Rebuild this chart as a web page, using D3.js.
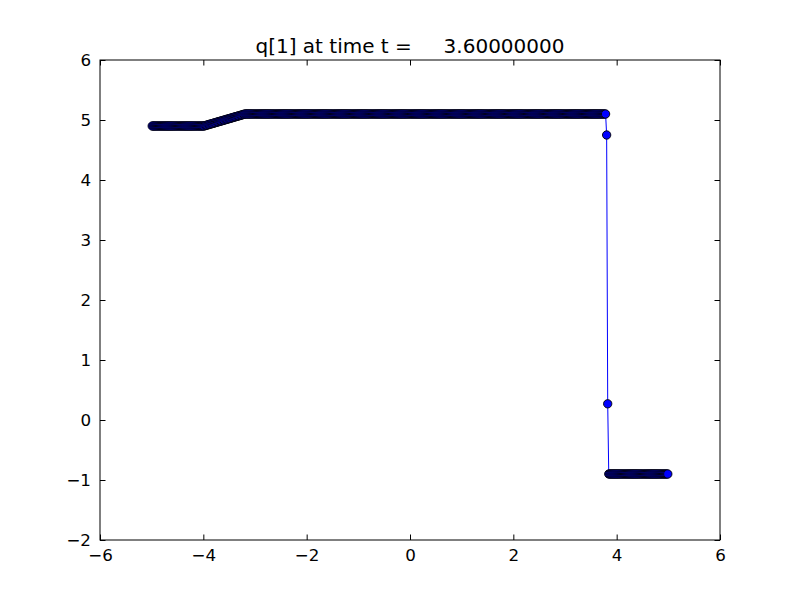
<!DOCTYPE html>
<html>
<head>
<meta charset="utf-8">
<script src="https://cdn.jsdelivr.net/npm/d3@7"></script>
<style>
  html, body { margin: 0; padding: 0; background: #ffffff; }
  svg { display: block; }
  text { font-family: "DejaVu Sans", sans-serif; fill: #000; }
</style>
</head>
<body>
<svg id="chart" width="800" height="600"></svg>
<script>
// ---- data ----
const titleText = "q[1] at time t =     3.60000000";
const xDomain = [-6, 6];
const yDomain = [-2, 6];
const xTicks = [-6, -4, -2, 0, 2, 4, 6];
const yTicks = [-2, -1, 0, 1, 2, 3, 4, 5, 6];
const xStart = -5;   // left edge of the grid
const xEnd = 5;      // right edge of the grid

// q[1] values at the cell centres, left to right
const qValues = [
  4.9,4.9,4.9,4.9,4.9,4.9,4.9,4.9,4.9,4.9,
  4.9,4.9,4.9,4.9,4.9,4.9,4.9,4.9,4.9,4.9,
  4.9,4.9,4.9,4.9,4.9,4.9,4.9,4.9,4.9,4.9,
  4.9,4.9,4.9,4.9,4.9,4.9,4.9,4.9,4.9,4.9,
  4.9,4.9,4.9,4.9,4.9,4.9,4.9,4.9,4.9,4.9,
  4.905,4.910,4.915,4.921,4.926,4.931,4.936,4.941,4.946,4.951,
  4.956,4.962,4.967,4.972,4.977,4.982,4.987,4.992,4.997,5.003,
  5.008,5.013,5.018,5.023,5.028,5.033,5.038,5.044,5.049,5.054,
  5.059,5.064,5.069,5.074,5.079,5.085,5.090,5.095,
  5.1,5.1,5.1,5.1,5.1,5.1,5.1,5.1,5.1,5.1,
  5.1,5.1,5.1,5.1,5.1,5.1,5.1,5.1,5.1,5.1,
  5.1,5.1,5.1,5.1,5.1,5.1,5.1,5.1,5.1,5.1,
  5.1,5.1,5.1,5.1,5.1,5.1,5.1,5.1,5.1,5.1,
  5.1,5.1,5.1,5.1,5.1,5.1,5.1,5.1,5.1,5.1,
  5.1,5.1,5.1,5.1,5.1,5.1,5.1,5.1,5.1,5.1,
  5.1,5.1,5.1,5.1,5.1,5.1,5.1,5.1,5.1,5.1,
  5.1,5.1,5.1,5.1,5.1,5.1,5.1,5.1,5.1,5.1,
  5.1,5.1,5.1,5.1,5.1,5.1,5.1,5.1,5.1,5.1,
  5.1,5.1,5.1,5.1,5.1,5.1,5.1,5.1,5.1,5.1,
  5.1,5.1,5.1,5.1,5.1,5.1,5.1,5.1,5.1,5.1,
  5.1,5.1,5.1,5.1,5.1,5.1,5.1,5.1,5.1,5.1,
  5.1,5.1,5.1,5.1,5.1,5.1,5.1,5.1,5.1,5.1,
  5.1,5.1,5.1,5.1,5.1,5.1,5.1,5.1,5.1,5.1,
  5.1,5.1,5.1,5.1,5.1,5.1,5.1,5.1,5.1,5.1,
  5.1,5.1,5.1,5.1,5.1,5.1,5.1,5.1,5.1,5.1,
  5.1,5.1,5.1,5.1,5.1,5.1,5.1,5.1,5.1,5.1,
  5.1,5.1,5.1,5.1,5.1,5.1,5.1,5.1,5.1,5.1,
  5.1,5.1,5.1,5.1,5.1,5.1,5.1,5.1,5.1,5.1,
  5.1,5.1,5.1,5.1,5.1,5.1,5.1,5.1,5.1,5.1,
  5.1,5.1,5.1,5.1,5.1,5.1,5.1,5.1,5.1,5.1,
  5.1,5.1,5.1,5.1,5.1,5.1,5.1,5.1,5.1,5.1,
  5.1,5.1,5.1,5.1,5.1,5.1,5.1,5.1,5.1,5.1,
  5.1,5.1,5.1,5.1,5.1,5.1,5.1,5.1,5.1,5.1,
  5.1,5.1,5.1,5.1,5.1,5.1,5.1,5.1,5.1,5.1,
  5.1,5.1,5.1,5.1,5.1,5.1,5.1,5.1,5.1,5.1,
  5.1,5.1,5.1,5.1,5.1,5.1,5.1,5.1,5.1,5.1,
  5.1,5.1,5.1,5.1,5.1,5.1,5.1,5.1,5.1,5.1,
  5.1,5.1,5.1,5.1,5.1,5.1,5.1,5.1,5.1,5.1,
  5.1,5.1,5.1,5.1,5.1,5.1,5.1,5.1,5.1,5.1,
  5.1,5.1,5.1,5.1,5.1,5.1,5.1,5.1,5.1,5.1,
  5.1,5.1,5.1,5.1,5.1,5.1,5.1,5.1,5.1,5.1,
  5.1,5.1,5.1,5.1,5.1,5.1,5.1,5.1,5.1,5.1,
  5.1,5.1,5.1,5.1,5.1,5.1,5.1,5.1,5.1,5.1,
  5.1,5.1,5.1,
  4.75,
  0.27,
  -0.9,-0.9,-0.9,-0.9,-0.9,-0.9,-0.9,-0.9,-0.9,-0.9,
  -0.9,-0.9,-0.9,-0.9,-0.9,-0.9,-0.9,-0.9,-0.9,-0.9,
  -0.9,-0.9,-0.9,-0.9,-0.9,-0.9,-0.9,-0.9,-0.9,-0.9,
  -0.9,-0.9,-0.9,-0.9,-0.9,-0.9,-0.9,-0.9,-0.9,-0.9,
  -0.9,-0.9,-0.9,-0.9,-0.9,-0.9,-0.9,-0.9,-0.9,-0.9,
  -0.9,-0.9,-0.9,-0.9,-0.9,-0.9,-0.9
];

// ---- layout ----
const svg = d3.select("#chart");
const margin = { left: 100, right: 80, top: 60, bottom: 60 };
const W = 800, H = 600;
const x = d3.scaleLinear().domain(xDomain).range([margin.left, W - margin.right]);
const y = d3.scaleLinear().domain(yDomain).range([H - margin.bottom, margin.top]);

const N = qValues.length;
const dx = (xEnd - xStart) / N;
const pts = qValues.map((q, i) => ({ x: xStart + (i + 0.5) * dx, q }));

const fmt = d3.format("d");
const tickLen = 5.5;

// axes: ticks inside on all four sides
const axB = d3.axisBottom(x).tickValues(xTicks).tickFormat(fmt).tickSizeInner(-tickLen).tickSizeOuter(0).tickPadding(9);
const axT = d3.axisTop(x).tickValues(xTicks).tickFormat("").tickSizeInner(-tickLen).tickSizeOuter(0);
const axL = d3.axisLeft(y).tickValues(yTicks).tickFormat(fmt).tickSizeInner(-tickLen).tickSizeOuter(0).tickPadding(9);
const axR = d3.axisRight(y).tickValues(yTicks).tickFormat("").tickSizeInner(-tickLen).tickSizeOuter(0);

function styleAxis(g) {
  g.select(".domain").remove();
  g.selectAll(".tick line").attr("stroke", "#000").attr("stroke-width", 1);
  g.selectAll(".tick text").attr("font-family", "DejaVu Sans").attr("font-size", "16.7px").attr("fill", "#000");
}

svg.append("g").attr("transform", `translate(0,${H - margin.bottom})`).call(axB).call(styleAxis);
svg.append("g").attr("transform", `translate(0,${margin.top})`).call(axT).call(styleAxis);
svg.append("g").attr("transform", `translate(${margin.left},0)`).call(axL).call(styleAxis);
svg.append("g").attr("transform", `translate(${W - margin.right},0)`).call(axR).call(styleAxis);

// clip to axes
svg.append("clipPath").attr("id", "clip").append("rect")
  .attr("x", margin.left).attr("y", margin.top)
  .attr("width", W - margin.left - margin.right).attr("height", H - margin.top - margin.bottom);

const plot = svg.append("g").attr("clip-path", "url(#clip)");

const line = d3.line().x(d => x(d.x)).y(d => y(d.q));
plot.append("path").datum(pts)
  .attr("d", line).attr("fill", "none").attr("stroke", "#0000ff").attr("stroke-width", 1);

plot.selectAll("circle").data(pts).join("circle")
  .attr("cx", d => x(d.x)).attr("cy", d => y(d.q))
  .attr("r", 4.17)
  .attr("fill", "#0000ff").attr("stroke", "#000").attr("stroke-width", 0.9);

// frame
svg.append("rect")
  .attr("x", margin.left).attr("y", margin.top)
  .attr("width", W - margin.left - margin.right).attr("height", H - margin.top - margin.bottom)
  .attr("fill", "none").attr("stroke", "#000").attr("stroke-width", 1);

// title
svg.append("text")
  .attr("x", (margin.left + W - margin.right) / 2).attr("y", 53)
  .attr("text-anchor", "middle")
  .attr("font-size", "20px")
  .style("white-space", "pre")
  .text(titleText);
</script>
</body>
</html>
